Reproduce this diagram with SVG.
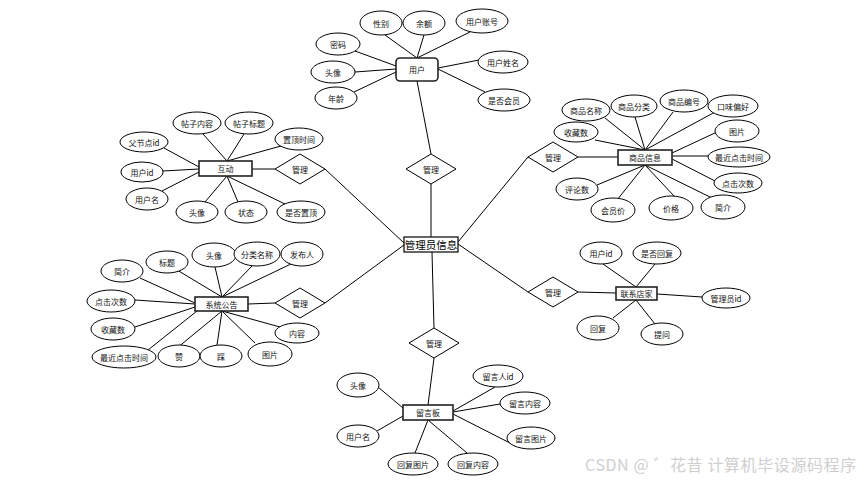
<svg xmlns="http://www.w3.org/2000/svg" width="865" height="481" viewBox="0 0 865 481">
<style>
.e{fill:#fff;stroke:#000;stroke-width:1}
.b{fill:#fff;stroke:#222;stroke-width:1.6}
.d{fill:#fff;stroke:#000;stroke-width:1}
.c line{stroke:#000;stroke-width:1}
text{font-family:"Noto Sans CJK SC","Liberation Sans",sans-serif;font-size:8px;fill:#111;text-anchor:middle;dominant-baseline:central}
.big{font-size:10.5px;fill:#000}
.wm{font-size:16px;fill:#cfcfcf;text-anchor:start;dominant-baseline:auto;letter-spacing:0.6px}
</style>
<rect width="865" height="481" fill="#fff"/>
<g id="connectors" class="c">
<!-- user -->
<line x1="385" y1="35" x2="417" y2="58"/>
<line x1="424" y1="35" x2="417" y2="58"/>
<line x1="470" y1="32" x2="417" y2="58"/>
<line x1="355" y1="51" x2="396" y2="66"/>
<line x1="355" y1="72" x2="396" y2="69"/>
<line x1="354" y1="92" x2="396" y2="72"/>
<line x1="438" y1="68" x2="479" y2="60"/>
<line x1="438" y1="69" x2="485" y2="92"/>
<!-- center -->
<line x1="417" y1="81" x2="431" y2="154"/>
<line x1="431" y1="184" x2="431" y2="237"/>
<line x1="325" y1="169" x2="404" y2="243"/>
<line x1="325" y1="303" x2="404" y2="245"/>
<line x1="458" y1="242" x2="528" y2="157"/>
<line x1="458" y1="244" x2="528" y2="292"/>
<line x1="432" y1="252" x2="434" y2="328"/>
<line x1="434" y1="358" x2="428" y2="405"/>
<!-- product -->
<line x1="578" y1="157" x2="618" y2="157"/>
<line x1="605" y1="118" x2="645" y2="150"/>
<line x1="635" y1="117" x2="645" y2="150"/>
<line x1="673" y1="112" x2="645" y2="150"/>
<line x1="715" y1="112" x2="645" y2="150"/>
<line x1="595" y1="140" x2="645" y2="150"/>
<line x1="672" y1="153" x2="717" y2="132"/>
<line x1="672" y1="156" x2="708" y2="156"/>
<line x1="672" y1="159" x2="717" y2="182"/>
<line x1="645" y1="165" x2="597" y2="185"/>
<line x1="645" y1="165" x2="617" y2="200"/>
<line x1="645" y1="165" x2="675" y2="197"/>
<line x1="645" y1="165" x2="712" y2="198"/>
<!-- interaction -->
<line x1="252" y1="169" x2="275" y2="169"/>
<line x1="203" y1="134" x2="227" y2="161"/>
<line x1="244" y1="134" x2="227" y2="161"/>
<line x1="281" y1="146" x2="227" y2="161"/>
<line x1="164" y1="148" x2="199" y2="167"/>
<line x1="163" y1="171" x2="199" y2="169"/>
<line x1="162" y1="191" x2="199" y2="172"/>
<line x1="205" y1="202" x2="227" y2="176"/>
<line x1="238" y1="202" x2="227" y2="176"/>
<line x1="285" y1="204" x2="227" y2="176"/>
<!-- announcement -->
<line x1="248" y1="304" x2="275" y2="303"/>
<line x1="177" y1="270" x2="222" y2="297"/>
<line x1="215" y1="267" x2="222" y2="297"/>
<line x1="253" y1="265" x2="222" y2="297"/>
<line x1="293" y1="263" x2="222" y2="297"/>
<line x1="140" y1="278" x2="195" y2="303"/>
<line x1="135" y1="300" x2="195" y2="304"/>
<line x1="135" y1="327" x2="195" y2="307"/>
<line x1="148" y1="350" x2="197" y2="311"/>
<line x1="177" y1="348" x2="222" y2="311"/>
<line x1="217" y1="345" x2="222" y2="311"/>
<line x1="255" y1="343" x2="222" y2="311"/>
<line x1="280" y1="327" x2="222" y2="311"/>
<!-- contact -->
<line x1="578" y1="292" x2="616" y2="293"/>
<line x1="603" y1="264" x2="636" y2="287"/>
<line x1="655" y1="264" x2="636" y2="287"/>
<line x1="657" y1="294" x2="702" y2="297"/>
<line x1="613" y1="318" x2="636" y2="300"/>
<line x1="655" y1="324" x2="636" y2="300"/>
<!-- message board -->
<line x1="378" y1="387" x2="403" y2="408"/>
<line x1="377" y1="431" x2="403" y2="416"/>
<line x1="495" y1="387" x2="453" y2="411"/>
<line x1="500" y1="404" x2="453" y2="412"/>
<line x1="510" y1="443" x2="453" y2="414"/>
<line x1="415" y1="453" x2="428" y2="420"/>
<line x1="467" y1="453" x2="428" y2="420"/>
</g>

<g id="user"><rect class="b" x="396" y="58" width="42" height="23" rx="4"/><text x="417" y="69.5">用户</text></g>
<g id="u-gender"><ellipse class="e" cx="381" cy="23" rx="21" ry="12"/><text x="381" y="23">性别</text></g>
<g id="u-balance"><ellipse class="e" cx="424" cy="23" rx="21" ry="12"/><text x="424" y="23">余额</text></g>
<g id="u-account"><ellipse class="e" cx="482" cy="21" rx="26" ry="12"/><text x="482" y="21">用户账号</text></g>
<g id="u-password"><ellipse class="e" cx="338" cy="44" rx="22" ry="11"/><text x="338" y="44">密码</text></g>
<g id="u-avatar"><ellipse class="e" cx="333" cy="72" rx="22" ry="11"/><text x="333" y="72">头像</text></g>
<g id="u-age"><ellipse class="e" cx="336" cy="98" rx="21" ry="11"/><text x="336" y="98">年龄</text></g>
<g id="u-name"><ellipse class="e" cx="503" cy="62" rx="25" ry="11"/><text x="503" y="62">用户姓名</text></g>
<g id="u-member"><ellipse class="e" cx="504" cy="100" rx="26" ry="11"/><text x="504" y="100">是否会员</text></g>

<g id="admin"><rect x="404" y="237" width="54" height="15" fill="#fff" stroke="#000" stroke-width="1.2"/><text class="big" x="431" y="244.5">管理员信息</text></g>
<g id="m-user"><polygon class="d" points="431,154 456,169 431,184 406,169"/><text x="431" y="169">管理</text></g>
<g id="m-inter"><polygon class="d" points="300,154 325,169 300,184 275,169"/><text x="300" y="169">管理</text></g>
<g id="m-ann"><polygon class="d" points="300,288 325,303 300,318 275,303"/><text x="300" y="303">管理</text></g>
<g id="m-prod"><polygon class="d" points="553,142 578,157 553,172 528,157"/><text x="553" y="157">管理</text></g>
<g id="m-contact"><polygon class="d" points="553,277 578,292 553,307 528,292"/><text x="553" y="292">管理</text></g>
<g id="m-board"><polygon class="d" points="434,328 459,343 434,358 409,343"/><text x="434" y="343">管理</text></g>

<g id="product"><rect class="b" x="618" y="150" width="54" height="15"/><text x="645" y="157.5">商品信息</text></g>
<g id="p-name"><ellipse class="e" cx="586" cy="110" rx="24" ry="11"/><text x="586" y="110">商品名称</text></g>
<g id="p-cat"><ellipse class="e" cx="634" cy="106" rx="23" ry="11"/><text x="634" y="106">商品分类</text></g>
<g id="p-no"><ellipse class="e" cx="684" cy="101" rx="24" ry="11"/><text x="684" y="101">商品编号</text></g>
<g id="p-taste"><ellipse class="e" cx="733" cy="106" rx="25" ry="11"/><text x="733" y="106">口味偏好</text></g>
<g id="p-fav"><ellipse class="e" cx="576" cy="132" rx="22" ry="10"/><text x="576" y="132">收藏数</text></g>
<g id="p-pic"><ellipse class="e" cx="737" cy="131" rx="22" ry="11"/><text x="737" y="131">图片</text></g>
<g id="p-last"><ellipse class="e" cx="739" cy="157" rx="31" ry="10"/><text x="739" y="157">最近点击时间</text></g>
<g id="p-clicks"><ellipse class="e" cx="738" cy="183" rx="24" ry="10"/><text x="738" y="183">点击次数</text></g>
<g id="p-comments"><ellipse class="e" cx="577" cy="189" rx="21" ry="11"/><text x="577" y="189">评论数</text></g>
<g id="p-mprice"><ellipse class="e" cx="613" cy="210" rx="22" ry="12"/><text x="613" y="210">会员价</text></g>
<g id="p-price"><ellipse class="e" cx="671" cy="208" rx="22" ry="12"/><text x="671" y="208">价格</text></g>
<g id="p-intro"><ellipse class="e" cx="723" cy="207" rx="22" ry="12"/><text x="723" y="207">简介</text></g>

<g id="interaction"><rect class="b" x="199" y="161" width="53" height="15"/><text x="225.5" y="168.5">互动</text></g>
<g id="i-parent"><ellipse class="e" cx="144" cy="142" rx="24" ry="10"/><text x="144" y="142">父节点id</text></g>
<g id="i-content"><ellipse class="e" cx="197" cy="123" rx="24" ry="11"/><text x="197" y="123">帖子内容</text></g>
<g id="i-title"><ellipse class="e" cx="249" cy="123" rx="24" ry="11"/><text x="249" y="123">帖子标题</text></g>
<g id="i-toptime"><ellipse class="e" cx="299" cy="139" rx="24" ry="11"/><text x="299" y="139">置顶时间</text></g>
<g id="i-uid"><ellipse class="e" cx="142" cy="172" rx="21" ry="10"/><text x="142" y="172">用户id</text></g>
<g id="i-uname"><ellipse class="e" cx="147" cy="199" rx="21" ry="11"/><text x="147" y="199">用户名</text></g>
<g id="i-avatar"><ellipse class="e" cx="197" cy="212" rx="21" ry="11"/><text x="197" y="212">头像</text></g>
<g id="i-status"><ellipse class="e" cx="246" cy="212" rx="21" ry="11"/><text x="246" y="212">状态</text></g>
<g id="i-istop"><ellipse class="e" cx="301" cy="212" rx="24" ry="11"/><text x="301" y="212">是否置顶</text></g>

<g id="announcement"><rect class="b" x="195" y="297" width="53" height="14"/><text x="221.5" y="304">系统公告</text></g>
<g id="a-intro"><ellipse class="e" cx="122" cy="271" rx="21" ry="11"/><text x="122" y="271">简介</text></g>
<g id="a-title"><ellipse class="e" cx="167" cy="262" rx="21" ry="11"/><text x="167" y="262">标题</text></g>
<g id="a-avatar"><ellipse class="e" cx="214" cy="255" rx="22" ry="12"/><text x="214" y="255">头像</text></g>
<g id="a-cat"><ellipse class="e" cx="257" cy="254" rx="23" ry="12"/><text x="257" y="254">分类名称</text></g>
<g id="a-pub"><ellipse class="e" cx="302" cy="254" rx="21" ry="12"/><text x="302" y="254">发布人</text></g>
<g id="a-clicks"><ellipse class="e" cx="111" cy="301" rx="24" ry="11"/><text x="111" y="301">点击次数</text></g>
<g id="a-fav"><ellipse class="e" cx="113" cy="329" rx="22" ry="11"/><text x="113" y="329">收藏数</text></g>
<g id="a-last"><ellipse class="e" cx="124" cy="357" rx="32" ry="11"/><text x="124" y="357">最近点击时间</text></g>
<g id="a-like"><ellipse class="e" cx="179" cy="356" rx="21" ry="11"/><text x="179" y="356">赞</text></g>
<g id="a-dislike"><ellipse class="e" cx="221" cy="356" rx="21" ry="11"/><text x="221" y="356">踩</text></g>
<g id="a-pic"><ellipse class="e" cx="270" cy="354" rx="22" ry="12"/><text x="270" y="354">图片</text></g>
<g id="a-content"><ellipse class="e" cx="297" cy="333" rx="22" ry="10"/><text x="297" y="333">内容</text></g>

<g id="contact"><rect class="b" x="616" y="287" width="41" height="13"/><text x="636.5" y="293.5">联系店家</text></g>
<g id="c-uid"><ellipse class="e" cx="601" cy="253" rx="21" ry="11"/><text x="601" y="253">用户id</text></g>
<g id="c-replied"><ellipse class="e" cx="657" cy="253" rx="24" ry="11"/><text x="657" y="253">是否回复</text></g>
<g id="c-adminid"><ellipse class="e" cx="726" cy="298" rx="24" ry="10"/><text x="726" y="298">管理员id</text></g>
<g id="c-reply"><ellipse class="e" cx="598" cy="328" rx="21" ry="12"/><text x="598" y="328">回复</text></g>
<g id="c-ask"><ellipse class="e" cx="662" cy="334" rx="21" ry="11"/><text x="662" y="334">提问</text></g>

<g id="board"><rect class="b" x="403" y="405" width="50" height="15"/><text x="428" y="412.5">留言板</text></g>
<g id="b-avatar"><ellipse class="e" cx="358" cy="385" rx="21" ry="12"/><text x="358" y="385">头像</text></g>
<g id="b-uid"><ellipse class="e" cx="498" cy="376" rx="25" ry="11"/><text x="498" y="376">留言人id</text></g>
<g id="b-content"><ellipse class="e" cx="525" cy="403" rx="25" ry="11"/><text x="525" y="403">留言内容</text></g>
<g id="b-pic"><ellipse class="e" cx="531" cy="438" rx="24" ry="11"/><text x="531" y="438">留言图片</text></g>
<g id="b-uname"><ellipse class="e" cx="358" cy="436" rx="21" ry="11"/><text x="358" y="436">用户名</text></g>
<g id="b-rpic"><ellipse class="e" cx="413" cy="464" rx="25" ry="11"/><text x="413" y="464">回复图片</text></g>
<g id="b-rcontent"><ellipse class="e" cx="473" cy="464" rx="25" ry="11"/><text x="473" y="464">回复内容</text></g>

<text class="wm" x="585" y="471">CSDN @ ゛花昔 计算机毕设源码程序</text>
</svg>
